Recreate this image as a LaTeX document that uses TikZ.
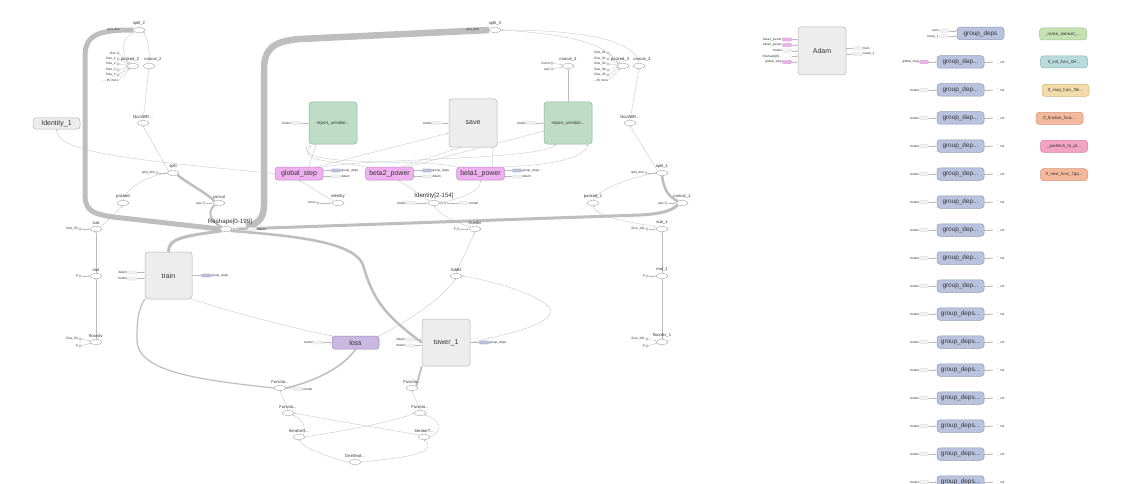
\documentclass[tikz,border=0pt]{standalone}
\usepackage{fontspec}
\setmainfont{Liberation Sans}
\usetikzlibrary{shapes.geometric,arrows.meta,backgrounds}
\definecolor{txt}{HTML}{333333}
\definecolor{opc}{HTML}{9A9A9A}
\definecolor{edgec}{HTML}{BBBBBB}
\definecolor{thickc}{HTML}{BEBEBE}
\definecolor{metaf}{HTML}{EDEDED}
\definecolor{metad}{HTML}{B5B5B5}
\definecolor{greenf}{HTML}{BEDCC6}
\definecolor{greend}{HTML}{8DB39A}
\definecolor{pinkf}{HTML}{EEB0EE}
\definecolor{pinkd}{HTML}{C48CC4}
\definecolor{lavf}{HTML}{C9B8E2}
\definecolor{lavd}{HTML}{9B8ABB}
\definecolor{bluef}{HTML}{B9C3DD}
\definecolor{blued}{HTML}{8C9BBD}
\definecolor{mkf}{HTML}{C6E2B4}\definecolor{mkd}{HTML}{9CC48A}
\definecolor{inf}{HTML}{B8DADA}\definecolor{ind}{HTML}{8AB4B4}
\definecolor{mpf}{HTML}{F2DCAA}\definecolor{mpd}{HTML}{D0B674}
\definecolor{fif}{HTML}{F4B89C}\definecolor{fid}{HTML}{D4967A}
\definecolor{prf}{HTML}{F3A3C2}\definecolor{prd}{HTML}{D87EA2}
\tikzset{
 op/.style={ellipse, draw=opc, line width=0.35pt, minimum width=12pt, minimum height=5pt, inner sep=0pt, fill=white},
 oplbl/.style={font=\fontsize{4.2}{5}\selectfont, text=txt, inner sep=0pt},
 biglbl/.style={font=\fontsize{6.2}{7}\selectfont, text=txt, inner sep=0pt},
 cst/.style={circle, draw=opc, line width=0.3pt, minimum size=2.8pt, inner sep=0pt, fill=white},
 tiny/.style={font=\fontsize{3.2}{3.6}\selectfont, text=txt, inner sep=0.5pt},
 pill/.style={rounded corners=1pt, draw=gray!35, fill=gray!10, line width=0.25pt, minimum width=9pt, minimum height=3.2pt, inner sep=0pt},
 pinkpill/.style={pill, draw=pinkd, fill=pinkf},
 bluepill/.style={pill, draw=blued, fill=bluef},
 dpill/.style={pill, dashed, fill=white},
 bx/.style={rounded corners=3pt, line width=0.5pt, inner sep=0pt, text=txt, font=\fontsize{7}{8}\selectfont},
 meta/.style={bx, draw=metad, fill=metaf},
 greenb/.style={bx, draw=greend, fill=greenf, font=\fontsize{4.4}{5}\selectfont},
 pinkb/.style={bx, draw=pinkd, fill=pinkf, minimum width=48pt, minimum height=13pt},
 blueb/.style={bx, draw=blued, fill=bluef, minimum width=47pt, minimum height=12.5pt, font=\fontsize{6.4}{7}\selectfont},
 colb/.style={bx, minimum width=47pt, minimum height=12pt, font=\fontsize{4.3}{5}\selectfont},
 e/.style={draw=edgec, line width=0.28pt, -{Stealth[length=1.6pt,width=1.3pt]}},
 thk/.style={draw=thickc, line width=#1},
}
\newcommand{\opn}[4][0]{\node[op] (#2) at (#3) {}; \node[oplbl, anchor=south] (#2-l) at ([xshift=#1pt,yshift=1.3pt]#2.north) {#4};}
\newcommand{\cstin}[4]{\node[cst] (#1) at (#2) {}; \node[tiny, anchor=east] (#1-t) at (#1.west) {#3}; \draw[e] (#1) -- (#4);}
\newcommand{\pillin}[5]{\node[pill,#5] (#1) at (#2) {}; \node[tiny, anchor=east] (#1-t) at (#1.west) {#3}; \draw[e] (#1.east) -- (#1 -| #4.west);}
\newcommand{\pillout}[5]{\node[pill,#5] (#1) at (#2) {}; \node[tiny, anchor=west] (#1-t) at (#1.east) {#3}; \draw[e] (#1 -| #4.east) -- (#1.west);}
\begin{document}
\begin{tikzpicture}[x=1pt,y=-1pt]
\useasboundingbox (0,0) rectangle (1126,484);
% ---------------- ops
\opn{split2}{139,30}{split\_2}
\opn[-3]{packed2}{133,66}{packed\_2}
\opn[4]{concat2}{149,66}{concat\_2}
\opn{ncclL}{143,123}{NcclAllR...}
\opn{split}{173,173}{split}
\opn{packed}{123,203}{packed}
\opn{concat}{219,203}{concat}
\opn{sub}{96,229}{sub}
\opn{mul}{96,276}{mul}
\opn{floordiv}{96,342}{floordiv}
\opn{identity}{338,203}{identity}
\opn{truediv}{475,229}{truediv}
\opn{addn}{456,276}{AddN}
\opn{fl1}{280,388}{Functio...}
\opn{fl2}{288,413}{Functio...}
\opn{itg}{299,437}{IteratorG...}
\opn{itt}{424,437}{IteratorT...}
\opn{one}{355,462}{OneShot...}
\opn{fr1}{412,388}{Functio...}
\opn{fr2}{420,413}{Functio...}
\opn{split3}{495,30}{split\_3}
\opn{concat4}{568,66}{concat\_4}
\opn[-3]{packed3}{623,66}{packed\_3}
\opn[3]{concat3}{639,66}{concat\_3}
\opn{ncclR}{630,123}{NcclAllR...}
\opn{split1}{662,173}{split\_1}
\opn{packed1}{593,203}{packed\_1}
\opn{concat1}{682,203}{concat\_1}
\opn{sub1}{662,229}{sub\_1}
\opn{mul1}{662,276}{mul\_1}
\opn{floordiv1}{662,342}{floordiv\_1}
% Reshape
\node[op] (reshape) at (226,229) {};
\node[biglbl, anchor=south] (reshape-l) at ([xshift=4pt,yshift=1.5pt]reshape.north) {Reshape[0-199]};
\node[cst] (rs1) at (234,229) {};
\node[cst] (rs2) at (237.5,229) {};
\node[pill] (rsp) at (252,229) {};
\node[tiny, anchor=west] (rsp-t) at (rsp.east) {Adam};
\draw[e] (rsp.west) -- (rs2.east);
% Identity[2-154]
\node[op] (id2) at (434,203) {};
\node[biglbl, anchor=south] (id2-l) at ([xshift=0pt,yshift=1.5pt]id2.north) {Identity[2-154]};
\node[cst] (ia1) at (441.5,203) {};
\node[cst] (ia2) at (445,203) {};
\pillin{id2in}{411,203}{model}{id2}{}
\node[pill] (id2out) at (464,203) {};
\node[tiny, anchor=west] (id2out-t) at (id2out.east) {model};
\draw[e] (id2out.west) -- (ia2.east);
% constants
\cstin{c1}{122,30}{split\_dim}{split2}
\foreach \yy/\lab [count=\i] in {53/Size,59/Size\_1,64/Size\_2,70/Size\_3,75/Size\_4}{\cstin{pa\i}{118,\yy}{\lab}{packed2}}
\node[tiny, anchor=east] (more2) at (119,80) {... 45 more};
\draw[e] (more2.east) -- (packed2);
\cstin{c2}{157,173}{split\_dim}{split}
\cstin{c3}{204,203}{axis}{concat}
\cstin{c4}{80,229}{Size\_50}{sub}
\cstin{c5}{80,276}{p}{mul}
\cstin{c6}{80,339}{Size\_50}{floordiv}
\cstin{c7}{80,346}{p}{floordiv}
\cstin{c8}{318,203}{zeros}{identity}
\cstin{c9}{458,229}{p}{truediv}
\cstin{c10}{481,30}{split\_dim}{split3}
\cstin{c11}{552,63}{Const}{concat4}
\cstin{c12}{552,69}{axis}{concat4}
\foreach \yy/\lab [count=\i] in {53/Size\_91,59/Size\_92,64/Size\_93,70/Size\_94,75/Size\_95}{\cstin{pb\i}{608,\yy}{\lab}{packed3}}
\node[tiny, anchor=east] (more3) at (609,80) {... 45 more};
\draw[e] (more3.east) -- (packed3);
\cstin{c13}{646,173}{split\_dim}{split1}
\cstin{c14}{666,203}{axis}{concat1}
\cstin{c15}{647,229}{Size\_101}{sub1}
\cstin{c16}{647,276}{p}{mul1}
\cstin{c17}{647,339}{Size\_101}{floordiv1}
\cstin{c18}{647,346}{p}{floordiv1}
% ---------------- boxes
\node[meta, minimum width=47pt, minimum height=11pt] (ident1) at (56.5,123.5) {Identity\_1};
\node[greenb, minimum width=48pt, minimum height=42pt] (repL) at (333,123) {report\_uninitial...};
\node[meta, minimum width=48pt, minimum height=48pt] (save) at (473,123) {save};
\node[greenb, minimum width=48pt, minimum height=42pt] (repR) at (568,123) {report\_uninitial...};
\node[pinkb] (gstep) at (299,173.5) {global\_step};
\node[pinkb] (beta2) at (389.5,173.5) {beta2\_power};
\node[pinkb] (beta1) at (480.5,173.5) {beta1\_power};
\node[meta, minimum width=47pt, minimum height=47pt] (train) at (168.5,275.5) {train};
\node[bx, draw=lavd, fill=lavf, minimum width=47pt, minimum height=13pt] (loss) at (355.5,342.5) {loss};
\node[meta, minimum width=48pt, minimum height=47pt] (tower1) at (446,342.5) {tower\_1};
\node[meta, minimum width=48pt, minimum height=48pt] (adam) at (822,51) {Adam};
% inputs / outputs of boxes
\pillin{rl}{296,123}{model}{repL}{}
\pillin{sv}{437,123}{model}{save}{}
\pillin{rr}{531,123}{model}{repR}{}
\pillout{g1}{336,170.5}{group\_deps}{gstep}{bluepill}
\pillout{g2}{336,176.5}{Adam}{gstep}{}
\pillout{b21}{427,170.5}{group\_deps}{beta2}{bluepill}
\pillout{b22}{427,176.5}{Adam}{beta2}{}
\pillout{b11}{517,170.5}{group\_deps...}{beta1}{bluepill}
\pillout{b12}{517,176.5}{Adam}{beta1}{}
\pillin{tr1}{132,272.5}{Adam}{train}{}
\pillin{tr2}{132,278.5}{model}{train}{}
\pillout{tr3}{206,275.5}{group\_deps}{train}{bluepill}
\pillin{ls1}{318,342.5}{model}{loss}{}
\pillin{tw1}{410,339.5}{Adam}{tower1}{}
\pillin{tw2}{410,345.5}{model}{tower1}{}
\pillout{tw3}{484,342.5}{group\_deps}{tower1}{bluepill}
\node[pill] (flp) at (298,389) {};
\node[tiny, anchor=west] (flp-t) at (flp.east) {model};
\draw[e] (flp.west) -- (fl1.east);
\pillin{ad1}{787,39.5}{beta1\_power}{adam}{pinkpill}
\pillin{ad2}{787,45}{beta2\_power}{adam}{pinkpill}
\pillin{ad3}{787,50.7}{model}{adam}{}
\pillin{ad4}{787,56.3}{Reshape[0]...}{adam}{dpill}
\pillin{ad5}{787,62}{global\_step}{adam}{pinkpill}
\pillout{ao1}{858,48.3}{train}{adam}{}
\pillout{ao2}{858,54}{tower\_1}{adam}{}
% group_deps column
\node[blueb] (gd0) at (980.5,33.5) {group\_deps};
\pillin{gdi1}{944,30.7}{train}{gd0}{}
\pillin{gdi2}{944,36.3}{tower\_1}{gd0}{}
\node[blueb] (gd1) at (960.5,62) {group\_dep...};
\pillin{gin1}{924,62}{global\_step}{gd1}{pinkpill}
\node[dpill, minimum width=7pt] (go1) at (996,62) {};
\node[tiny, anchor=west] (go1-t) at (go1.east) {init};
\draw[e] (gd1.east) -- (go1.west);
\foreach \yy [count=\i from 2] in {90,118,146,174,202,230,258,286}{
 \node[blueb] (gd\i) at (960.5,\yy) {group\_dep...};
 \pillin{gin\i}{924,\yy}{model}{gd\i}{}
 \node[dpill, minimum width=7pt] (go\i) at (996,\yy) {};
 \node[tiny, anchor=west] (go\i-t) at (go\i.east) {init};
 \draw[e] (gd\i.east) -- (go\i.west);
}
\foreach \yy [count=\i from 10] in {314,342,370,398,426,454,482}{
 \node[blueb] (gd\i) at (960.5,\yy) {group\_deps...};
 \pillin{gin\i}{924,\yy}{model}{gd\i}{}
 \node[dpill, minimum width=7pt] (go\i) at (996,\yy) {};
 \node[tiny, anchor=west] (go\i-t) at (go\i.east) {init};
 \draw[e] (gd\i.east) -- (go\i.west);
}
% function library column
\node[colb, draw=mkd, fill=mkf] (mk) at (1063,34) {\_make\_dataset\_...};
\node[colb, draw=ind, fill=inf] (tfi) at (1064,62) {tf\_init\_func\_0H...};
\node[colb, draw=mpd, fill=mpf] (tfm) at (1065.5,90.3) {tf\_map\_func\_f5k...};
\node[colb, draw=fid, fill=fif] (tff) at (1059.5,118.3) {tf\_finalize\_func...};
\node[colb, draw=prd, fill=prf] (pre) at (1064,146.3) {\_prefetch\_fn\_pt...};
\node[colb, draw=fid, fill=fif] (tfn) at (1064,174.7) {tf\_next\_func\_7gq...};
% ---------------- edges
\coordinate (rsR) at (246,226);
\coordinate (bend) at (550,308);
\begin{pgfonlayer}{background}
\fill[white] (0,0) rectangle (1126,484);
% thick
\draw[thk=5pt] (split2.west) .. controls (100,30) and (85,34) .. (85,56) -- (85,195) .. controls (85,212) and (95,214) .. (113,217) -- (reshape.west);
\draw[thk=6.5pt] (split3.west) -- (300,39) .. controls (272,41) and (264,50) .. (264,70) -- (264,205) .. controls (264,220) and (256,225) .. (rsR);
\draw[thk=3pt] (rs2.east) -- (640,215) .. controls (660,214) and (672,211) .. (concat1.south west);
\draw[thk=3pt] (reshape.south west) .. controls (185,236) and (168,238) .. (train.north);
\draw[thk=2.5pt] (reshape.south east) .. controls (300,236) and (355,243) .. (363,265) .. controls (372,295) and (380,312) .. (tower1.west);
\draw[thk=2pt] (concat.south west) .. controls (207,212) and (210,221) .. (reshape.north west);
\draw[thk=2.5pt] (split.south east) .. controls (190,185) and (205,192) .. (concat.north west);
\draw[thk=2.5pt] (split1.south) .. controls (664,190) and (668,196) .. (concat1.north west);
\draw[thk=1.8pt] (tower1.south west) -- (fr1.north east);
\draw[thk=1.5pt] (loss.south) .. controls (345,365) and (320,380) .. (fl1.east);
\draw[thk=1.2pt] (train.south west) .. controls (138,310) and (137,320) .. (137,340) .. controls (137,372) and (200,380) .. (fl1.west);
% thin, left
\draw[e] (packed2.north west) .. controls (120,50) and (122,38) .. (split2.south west);
\draw[e] (concat2.north) .. controls (150,50) and (148,40) .. (split2.south east);
\draw[e] (ncclL.north) -- (concat2.south);
\draw[e] (split.north west) -- (ncclL.south);
\draw[e] (packed.north) .. controls (128,185) and (150,176) .. (split.west);
\draw[e] (sub.north east) -- (packed.south);
\draw[e] (mul.north) -- (sub.south);
\draw[e] (floordiv.north) -- (mul.south);
% thin, right
\draw[e] (packed3.north west) .. controls (605,42) and (565,34) .. (split3.east);
\draw[e] (concat3.north) .. controls (636,42) and (590,30) .. (split3.east);
\draw[e] (ncclR.north) -- (concat3.south);
\draw[e] (split1.north west) -- (ncclR.south);
\draw[e] (packed1.north) .. controls (600,188) and (630,178) .. (split1.west);
\draw[e] (sub1.north west) .. controls (630,222) and (598,218) .. (packed1.south);
\draw[e] (mul1.north) -- (sub1.south);
\draw[e] (floordiv1.north) -- (mul1.south);
\draw[e] (repR.north) -- (concat4.south);
% thin, centre
\draw[e] (gstep.west) .. controls (130,160) and (57,152) .. (ident1.south);
\draw[e] (identity.north west) -- (gstep.south);
\draw[e] (id2.north west) -- ([xshift=9pt]beta2.south);
\draw[e] (ia2.north east) .. controls (470,195) and (480,190) .. (beta1.south);
\draw[e] (truediv.north west) .. controls (455,222) and (440,215) .. (id2.south);
\draw[e] (addn.north) -- (truediv.south);
\draw[e] (loss.north east) .. controls (410,320) and (440,300) .. (addn.south);
\draw[e] (tower1.east) .. controls (520,332) and (556,322) .. (bend) .. controls (540,295) and (490,280) .. (addn.east);
\draw[e] (train.south east) .. controls (230,312) and (300,330) .. (loss.north west);
\draw[e] ([xshift=10pt]gstep.north) -- ([xshift=-17pt]repL.south);
\draw[e] ([xshift=18pt]gstep.north) -- ([yshift=-10pt]save.west);
\draw[e] (gstep.north east) .. controls (380,158) and (540,160) .. ([xshift=-12pt]repR.south);
\draw[e] ([xshift=12pt]beta2.north) -- ([xshift=-12pt]save.south);
\draw[e] ([xshift=18pt]beta2.north) -- ([yshift=-8pt]repR.west);
\draw[e] (beta2.north west) .. controls (330,160) and (298,162) .. ([xshift=2pt,yshift=-1pt]repL.south west);
\draw[e] (beta1.north west) .. controls (420,158) and (300,168) .. ([xshift=-2pt,yshift=-2pt]repL.south west);
\draw[e] ([xshift=12pt]beta1.north) -- ([xshift=20pt]save.south);
\draw[e] (beta1.north east) .. controls (560,165) and (585,156) .. ([xshift=20pt]repR.south);
% thin, bottom
\draw[e] (fl2.north) -- (fl1.south);
\draw[e] (fr2.north) -- (fr1.south);
\draw[e] (itg.north east) .. controls (307,425) and (300,418) .. (fl2.south east);
\draw[e] (itg.east) .. controls (350,430) and (400,420) .. (fr2.west);
\draw[e] (itt.north west) .. controls (380,428) and (330,420) .. (fl2.east);
\draw[e] (itt.east) .. controls (445,430) and (440,420) .. (fr2.south east);
\draw[e] (one.west) .. controls (330,458) and (303,448) .. (itg.south);
\draw[e] (one.east) .. controls (400,458) and (440,454) .. (itt.south);
\end{pgfonlayer}
\end{tikzpicture}
\end{document}
